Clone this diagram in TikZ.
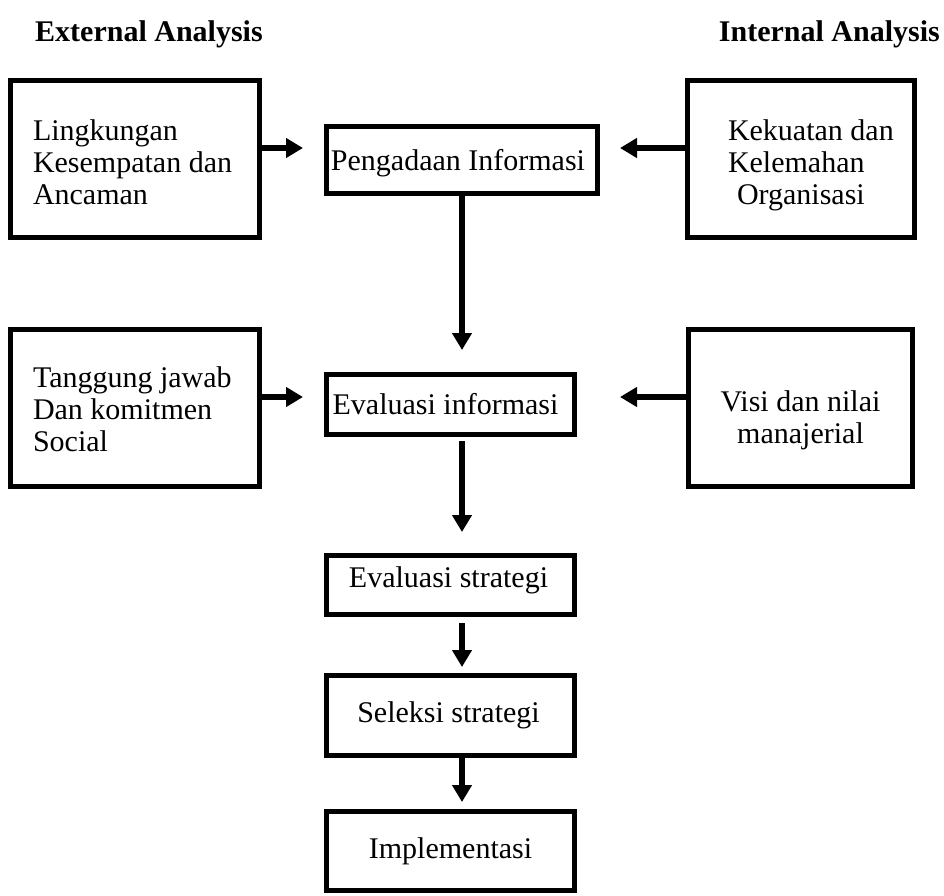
\documentclass[tikz,border=0pt]{standalone}
\usepackage{fontspec}
\setmainfont{Liberation Serif}
\usetikzlibrary{arrows.meta}
\begin{document}
\begin{tikzpicture}[x=1pt,y=-1pt,
  box/.style={draw, line width=5.5pt, inner ysep=0pt, font=\fontsize{30}{32}\selectfont},
  sidebox/.style={box, minimum width=249pt, minimum height=157pt, text width=204pt, inner xsep=22.5pt, align=flush left},
  midbox/.style={box, minimum width=248pt},
  arr/.style={line width=5.5pt, -{Triangle[length=17pt,width=19pt]}},
  hdr/.style={font=\fontsize{30}{33}\selectfont\bfseries, inner sep=0pt}]
\useasboundingbox (0,0) rectangle (944,895);

\node[hdr, anchor=base west] (ext) at (35,41) {External Analysis};
\node[hdr, anchor=base east] (int) at (940,41) {Internal Analysis};

\node[sidebox] (lk) at (135,159) {\rule{0pt}{28pt}Lingkungan\\Kesempatan dan\\Ancaman};
\node[box, minimum width=227pt, minimum height=157pt, text width=227pt, inner xsep=0pt, align=flush left] (kk) at (801,159)
  {\rule{0pt}{33pt}\hspace*{40.5pt}Kekuatan dan\\\hspace*{40.5pt}Kelemahan\\\hspace*{49.5pt}Organisasi};
\node[box, minimum width=271pt, minimum height=67pt, text height=23.5pt, text depth=3.5pt] (pi) at (462,160) {Pengadaan Informasi\hspace*{8pt}};

\node[sidebox] (tj) at (135,408) {\rule{0pt}{22.5pt}Tanggung jawab\\Dan komitmen\\Social};
\node[box, minimum width=224pt, minimum height=157pt, text width=200pt, align=flush center] (vn) at (800.5,408)
  {\rule{0pt}{46pt}Visi dan nilai\\manajerial};
\node[midbox, minimum height=60pt] (ei) at (450.5,404.5) {Evaluasi informasi\hspace*{10pt}};

\node[midbox, minimum height=59pt, text height=20.3pt, text depth=14.5pt] (es) at (450.5,585) {Evaluasi strategi\hspace*{4pt}};
\node[midbox, minimum height=80pt] (ss) at (450.5,715.5) {Seleksi strategi\hspace*{4pt}};
\node[midbox, minimum height=79pt] (im) at (450.5,851) {Implementasi};

\draw[arr, shorten >=20.75pt] ([yshift=11pt]lk.east) -- ([yshift=11pt]lk.east -| pi.west);
\draw[arr, shorten >=19.75pt] ([yshift=11pt]kk.west) -- ([yshift=11pt]kk.west -| pi.east);
\draw[arr, shorten >=20.75pt] ([yshift=11pt]tj.east) -- ([yshift=11pt]tj.east -| ei.west);
\draw[arr, shorten >=42.75pt] ([yshift=11pt]vn.west) -- ([yshift=11pt]vn.west -| ei.east);

\draw[arr, shorten >=21.75pt] (pi.south) -- (pi.south |- ei.north);
\draw[arr, shorten <=4pt, shorten >=20.75pt] ([xshift=11.5pt]ei.south) -- ([xshift=11.5pt]es.north);
\draw[arr, shorten <=6pt, shorten >=5.75pt] ([xshift=11.5pt]es.south) -- ([xshift=11.5pt]ss.north);
\draw[arr, shorten >=6.75pt] ([xshift=11.5pt]ss.south) -- ([xshift=11.5pt]im.north);
\end{tikzpicture}
\end{document}
